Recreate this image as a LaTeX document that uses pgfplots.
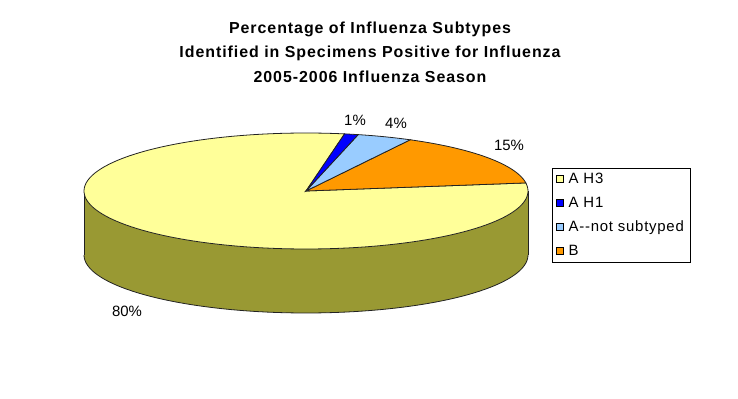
\documentclass[border=0pt]{standalone}
\usepackage{fontspec}
\setmainfont{Liberation Sans}
\usepackage{pgfplots}
\usepackage{pgfplotstable}
\pgfplotsset{compat=1.18}
\usepgfplotslibrary{fillbetween}
\definecolor{cAH3}{HTML}{FFFF99}
\definecolor{cAH1}{HTML}{0000FF}
\definecolor{cAnot}{HTML}{99CCFF}
\definecolor{cB}{HTML}{FF9900}
\definecolor{cWall}{HTML}{999933}
\definecolor{cEdge}{HTML}{222222}

\pgfplotstableread{
subtype value
AH3 80
AH1 1
Anot 4
B 15
}\datatable

\begin{document}
\begin{tikzpicture}
\pgfplotstablegetelem{0}{value}\of\datatable \let\vAHthree\pgfplotsretval
\pgfplotstablegetelem{1}{value}\of\datatable \let\vAHone\pgfplotsretval
\pgfplotstablegetelem{2}{value}\of\datatable \let\vAnot\pgfplotsretval
\pgfplotstablegetelem{3}{value}\of\datatable \let\vB\pgfplotsretval
% pie geometry (pixels): centre, semi-axes, depth, start angle
\def\cx{306}\def\cy{191}\def\ra{222}\def\rb{58}\def\dep{64}\def\st{8}
\pgfmathsetmacro{\aB}{\st}
\pgfmathsetmacro{\bB}{\aB+3.6*\vB}
\pgfmathsetmacro{\bAnot}{\bB+3.6*\vAnot}
\pgfmathsetmacro{\bAHone}{\bAnot+3.6*\vAHone}
\pgfmathsetmacro{\bAHthree}{\bAHone+3.6*\vAHthree}
\begin{axis}[
  width=738bp, height=399bp, scale only axis,
  xmin=0, xmax=738, ymin=0, ymax=399, y dir=reverse,
  hide axis, clip=false,
  legend style={at={(0.748,0.579)}, anchor=north west, draw=black,
    font=\fontsize{15}{17}\selectfont\addfontfeatures{LetterSpace=5},
    inner xsep=4bp, inner ysep=3bp,
    row sep=8bp, /tikz/every odd column/.append style={column sep=3bp}},
  legend cell align=left,
  legend image code/.code={\draw[#1] (0bp,-3.5bp) rectangle (7bp,3.5bp);},
]
\coordinate (bbsw) at (axis cs:0,399);
\coordinate (bbne) at (axis cs:738,0);
% side wall
\addplot[name path=wtop, draw=none, domain=180:360, samples=80, variable=\t, forget plot]
  ({\cx+\ra*cos(\t)}, {\cy-\rb*sin(\t)});
\addplot[name path=wbot, draw=cEdge, line width=0.8pt, domain=180:360, samples=80, variable=\t, forget plot]
  ({\cx+\ra*cos(\t)}, {\cy+\dep-\rb*sin(\t)});
\addplot[fill=cWall, draw=none, forget plot] fill between[of=wtop and wbot];
\addplot[draw=cEdge, line width=0.8pt, forget plot] coordinates {(84,191) (84,255)};
\addplot[draw=cEdge, line width=0.8pt, forget plot] coordinates {(528,191) (528,255)};
% top slices
\addplot[fill=cAH3, draw=cEdge, line width=0.8pt, domain=\bAHone:\bAHthree, samples=120, variable=\t, forget plot]
  ({\cx+\ra*cos(\t)}, {\cy-\rb*sin(\t)}) -- (axis cs:\cx,\cy) -- cycle;
\addplot[fill=cB, draw=cEdge, line width=0.8pt, domain=\aB:\bB, samples=40, variable=\t, forget plot]
  ({\cx+\ra*cos(\t)}, {\cy-\rb*sin(\t)}) -- (axis cs:\cx,\cy) -- cycle;
\addplot[fill=cAnot, draw=cEdge, line width=0.8pt, domain=\bB:\bAnot, samples=20, variable=\t, forget plot]
  ({\cx+\ra*cos(\t)}, {\cy-\rb*sin(\t)}) -- (axis cs:\cx,\cy) -- cycle;
\addplot[fill=cAH1, draw=cEdge, line width=0.8pt, domain=\bAnot:\bAHone, samples=10, variable=\t, forget plot]
  ({\cx+\ra*cos(\t)}, {\cy-\rb*sin(\t)}) -- (axis cs:\cx,\cy) -- cycle;
% labels
\node[font=\fontsize{15}{17}\selectfont] at (axis cs:355,120) {1\%};
\node[font=\fontsize{15}{17}\selectfont] at (axis cs:396,123) {4\%};
\node[font=\fontsize{15}{17}\selectfont] at (axis cs:509,145) {15\%};
\node[font=\fontsize{15}{17}\selectfont] at (axis cs:127,311) {80\%};
% title
\node[align=center, font=\fontsize{16}{24.5}\selectfont\bfseries\addfontfeatures{LetterSpace=6}]
  at (axis cs:370,52) {Percentage of Influenza Subtypes\\Identified in Specimens Positive for Influenza\\2005-2006 Influenza Season};
% legend
\addlegendimage{fill=cAH3, draw=black}\addlegendentry{A H3}
\addlegendimage{fill=cAH1, draw=black}\addlegendentry{A H1}
\addlegendimage{fill=cAnot, draw=black}\addlegendentry{A-{}-not subtyped}
\addlegendimage{fill=cB, draw=black}\addlegendentry{B}
\end{axis}
\pgfresetboundingbox
\path (bbsw) rectangle (bbne);
\end{tikzpicture}
\end{document}
